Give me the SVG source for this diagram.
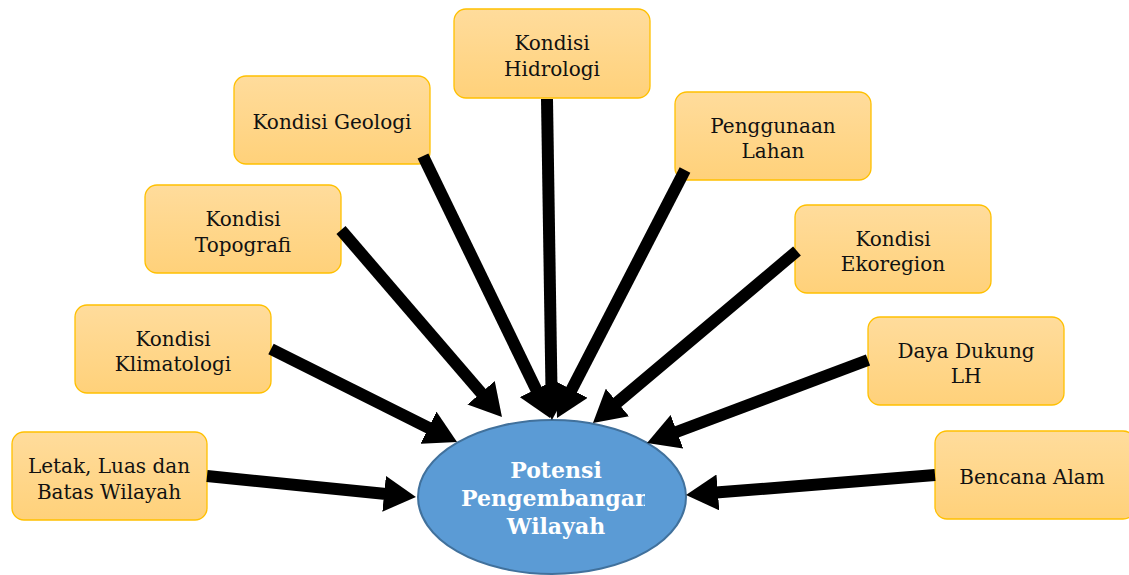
<svg xmlns="http://www.w3.org/2000/svg" width="1129" height="575" viewBox="0 0 1129 575">
<defs>
<linearGradient id="boxg" x1="0" y1="0" x2="0" y2="1">
<stop offset="0" stop-color="#FFDC9C"/>
<stop offset="1" stop-color="#FFD17A"/>
</linearGradient>
<marker id="ah" viewBox="0 0 32 36" markerUnits="userSpaceOnUse" markerWidth="32" markerHeight="36" refX="2" refY="18" orient="auto">
<path d="M0,0 L32,18 L0,36 Z" fill="#000"/>
</marker>
<clipPath id="ec"><rect x="400" y="400" width="245" height="175"/></clipPath>
</defs>
<style>
.box{fill:url(#boxg);stroke:#FFC000;stroke-width:1.3}
.t{font-family:"DejaVu Serif","Liberation Serif",serif;font-size:20px;fill:#111;text-anchor:middle}
.c{stroke:#000;stroke-width:12;fill:none;marker-end:url(#ah)}
.et{font-family:"DejaVu Serif","Liberation Serif",serif;font-size:22px;font-weight:bold;fill:#fff;text-anchor:middle}
</style>
<g id="n1"><rect class="box" x="12" y="432" width="195" height="88" rx="12"/><text class="t" x="109" y="473">Letak, Luas dan</text><text class="t" x="109" y="499">Batas Wilayah</text></g>
<g id="n2"><rect class="box" x="75" y="305" width="196" height="88" rx="12"/><text class="t" x="173" y="346">Kondisi</text><text class="t" x="173" y="371">Klimatologi</text></g>
<g id="n3"><rect class="box" x="145" y="185" width="196" height="88" rx="12"/><text class="t" x="243" y="226">Kondisi</text><text class="t" x="243" y="252">Topografi</text></g>
<g id="n4"><rect class="box" x="234" y="76" width="196" height="88" rx="12"/><text class="t" x="332" y="129">Kondisi Geologi</text></g>
<g id="n5"><rect class="box" x="454" y="9" width="196" height="89" rx="12"/><text class="t" x="552" y="50">Kondisi</text><text class="t" x="552" y="76">Hidrologi</text></g>
<g id="n6"><rect class="box" x="675" y="92" width="196" height="88" rx="12"/><text class="t" x="773" y="133">Penggunaan</text><text class="t" x="773" y="158">Lahan</text></g>
<g id="n7"><rect class="box" x="795" y="205" width="196" height="88" rx="12"/><text class="t" x="893" y="246">Kondisi</text><text class="t" x="893" y="271">Ekoregion</text></g>
<g id="n8"><rect class="box" x="868" y="317" width="196" height="88" rx="12"/><text class="t" x="966" y="358">Daya Dukung</text><text class="t" x="966" y="383">LH</text></g>
<g id="n9"><rect class="box" x="935" y="431" width="200" height="88" rx="12"/><text class="t" x="1032" y="484">Bencana Alam</text></g>
<g id="center"><ellipse cx="552" cy="497" rx="134" ry="77" fill="#5B9BD5" stroke="#41719C" stroke-width="2"/>
<g clip-path="url(#ec)"><text class="et" x="556" y="478">Potensi</text><text class="et" x="556" y="506">Pengembangan</text><text class="et" x="556" y="534">Wilayah</text></g></g>
<g id="connectors">
<line class="c" x1="207" y1="476" x2="386.1" y2="494"/>
<line class="c" x1="271" y1="349" x2="430.2" y2="428.6"/>
<line class="c" x1="341" y1="230" x2="482.4" y2="394.3"/>
<line class="c" x1="423" y1="156" x2="536.9" y2="391"/>
<line class="c" x1="547" y1="99" x2="551.5" y2="390"/>
<line class="c" x1="685" y1="170" x2="570.8" y2="391.3"/>
<line class="c" x1="797" y1="251" x2="615.9" y2="403.7"/>
<line class="c" x1="868" y1="360" x2="675.1" y2="432.5"/>
<line class="c" x1="935" y1="475" x2="715.9" y2="492.6"/>
</g>
</svg>
